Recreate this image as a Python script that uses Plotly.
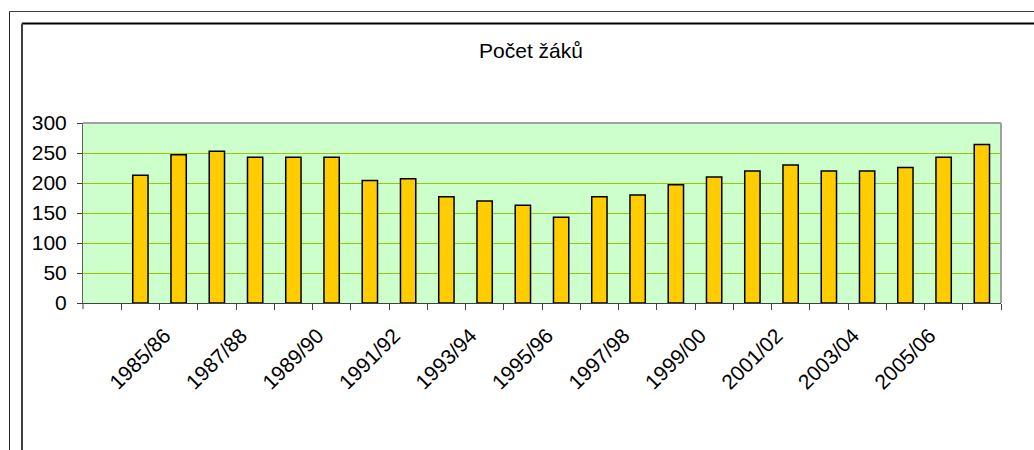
import plotly.graph_objects as go

categories = ["1984/85", "1985/86", "1986/87", "1987/88", "1988/89", "1989/90",
              "1990/91", "1991/92", "1992/93", "1993/94", "1994/95", "1995/96",
              "1996/97", "1997/98", "1998/99", "1999/00", "2000/01", "2001/02",
              "2002/03", "2003/04", "2004/05", "2005/06", "2006/07"]
pocet_zaku = [213, 247, 253, 243, 243, 243, 204, 207, 177, 170, 163, 143,
              177, 180, 197, 210, 220, 230, 220, 220, 226, 243, 264]
tick_labels = [c if i % 2 == 1 else "" for i, c in enumerate(categories)]
title_text = "Počet žáků"

W, H = 1034, 450
L, R, T, B = 83, 33, 123, 147
pw, ph = W - L - R, H - T - B


def px_x(p):
    return (p - L) / pw


def px_y(p):
    return (H - B - p) / ph


FONT = "Liberation Sans, Arial, sans-serif"

fig = go.Figure(go.Bar(
    x=categories, y=pocet_zaku,
    marker=dict(color="#FFCC00", line=dict(color="#000000", width=1.5)),
    hoverinfo="x+y",
))

shapes = [
    # plot area top/right border (grey)
    dict(type="line", xref="paper", yref="paper", x0=0, x1=1, y0=1, y1=1,
         line=dict(color="#A0A0A0", width=2)),
    dict(type="line", xref="paper", yref="paper", x0=1, x1=1, y0=0, y1=1,
         line=dict(color="#A0A0A0", width=2)),
    # outer thin frame
    dict(type="line", xref="paper", yref="paper", x0=px_x(9.5), x1=px_x(1040),
         y0=px_y(11.5), y1=px_y(11.5), line=dict(color="#404040", width=1)),
    dict(type="line", xref="paper", yref="paper", x0=px_x(9.5), x1=px_x(9.5),
         y0=px_y(11.5), y1=px_y(460), line=dict(color="#202020", width=1)),
    # inner chart-area frame
    dict(type="line", xref="paper", yref="paper", x0=px_x(22), x1=px_x(1040),
         y0=px_y(23.5), y1=px_y(23.5), line=dict(color="#000000", width=2)),
    dict(type="line", xref="paper", yref="paper", x0=px_x(22), x1=px_x(22),
         y0=px_y(23.5), y1=px_y(460), line=dict(color="#404040", width=2)),
    # first boundary tick at the left edge
    dict(type="line", xref="paper", yref="paper", x0=0, x1=0,
         y0=0, y1=px_y(H - B + 6), line=dict(color="#404040", width=1)),
]

fig.update_layout(
    width=W, height=H,
    margin=dict(l=L, r=R, t=T, b=B),
    paper_bgcolor="#FFFFFF",
    plot_bgcolor="#CCFFCC",
    bargap=0.6,
    showlegend=False,
    font=dict(family=FONT, size=21, color="#000000"),
    title=dict(text=title_text, xref="paper", x=px_x(531), xanchor="center",
               yref="container", y=1 - 51 / H, yanchor="middle",
               font=dict(family=FONT, size=21, color="#000000")),
    shapes=shapes,
)

fig.update_xaxes(
    type="category",
    range=[-1.5, len(categories) - 0.5],
    tickmode="array", tickvals=categories, ticktext=tick_labels,
    tickson="boundaries", ticks="outside", ticklen=6, tickcolor="#404040",
    tickangle=-45,
    ticklabelstandoff=11,
    ticklabelshift=-14,
    showgrid=False, showline=True, linecolor="#404040", linewidth=1,
    zeroline=False,
    tickfont=dict(family=FONT, size=21, color="#000000"),
)

fig.update_yaxes(
    range=[0, 300], dtick=50, tick0=0,
    ticks="outside", ticklen=5, tickcolor="#404040",
    showgrid=True, gridcolor="#99CC00", gridwidth=1,
    showline=True, linecolor="#606060", linewidth=1,
    zeroline=False,
    ticklabelstandoff=6,
    tickfont=dict(family=FONT, size=21, color="#000000"),
)

fig.write_html("out.html", config={"displayModeBar": False},
               post_script="document.body.style.margin='0px';")
